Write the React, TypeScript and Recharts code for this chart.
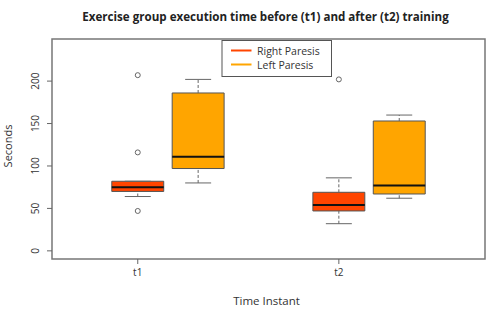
import {
  ComposedChart, Scatter, XAxis, YAxis, ReferenceArea, ReferenceLine, Customized,
} from 'recharts';

const TIMES = ['t1', 't2'];
const SERIES = ['Right Paresis', 'Left Paresis'];

// five-number summaries, one entry per time instant
const RIGHT_MIN = [64, 32];
const RIGHT_Q1 = [70, 47];
const RIGHT_MED = [75, 54];
const RIGHT_Q3 = [82, 69];
const RIGHT_MAX = [82, 86];
const RIGHT_OUT = [[207, 116, 47], [202]];

const LEFT_MIN = [80, 62];
const LEFT_Q1 = [97, 67];
const LEFT_MED = [111, 77];
const LEFT_Q3 = [186, 153];
const LEFT_MAX = [202, 160];
const LEFT_OUT: number[][] = [[], []];

const Y_TICKS = [0, 50, 100, 150, 200];

const RED = '#ff4500';
const ORANGE = '#ffa500';
const FRAME = '#777';
const TEXT = '#333';
const FONT = '"Open Sans", "Liberation Sans", sans-serif';

// layout (axis units)
const GROUP_AT = [1, 4.33];
const SERIES_OFFSET = [0, 1];
const HALF = 0.43;
const X_DOMAIN = [-0.42, 6.75];
const Y_DOMAIN = [-9.6, 249.6];

const STATS = [
  { min: RIGHT_MIN, q1: RIGHT_Q1, med: RIGHT_MED, q3: RIGHT_Q3, max: RIGHT_MAX, out: RIGHT_OUT, color: RED },
  { min: LEFT_MIN, q1: LEFT_Q1, med: LEFT_MED, q3: LEFT_Q3, max: LEFT_MAX, out: LEFT_OUT, color: ORANGE },
];

const outliers = STATS.flatMap((s, si) =>
  s.out.flatMap((vals, gi) => vals.map(v => ({ x: GROUP_AT[gi] + SERIES_OFFSET[si], y: v }))),
);

function seg(x1: number, y1: number, x2: number, y2: number) {
  return [{ x: x1, y: y1 }, { x: x2, y: y2 }] as any;
}

function boxMarks() {
  const out: any[] = [];
  STATS.forEach((s, si) => {
    TIMES.forEach((_, gi) => {
      const c = GROUP_AT[gi] + SERIES_OFFSET[si];
      const k = `${si}-${gi}`;
      out.push(
        <ReferenceArea key={`box${k}`} x1={c - HALF} x2={c + HALF} y1={s.q1[gi]} y2={s.q3[gi]}
          fill={s.color} fillOpacity={1} stroke="#555" strokeWidth={1} />,
      );
      if (s.max[gi] > s.q3[gi]) {
        out.push(<ReferenceLine key={`wu${k}`} segment={seg(c, s.q3[gi], c, s.max[gi])}
          stroke="#666" strokeDasharray="3 2" />);
      }
      if (s.min[gi] < s.q1[gi]) {
        out.push(<ReferenceLine key={`wl${k}`} segment={seg(c, s.min[gi], c, s.q1[gi])}
          stroke="#666" strokeDasharray="3 2" />);
      }
      out.push(
        <ReferenceLine key={`cu${k}`} segment={seg(c - HALF / 2, s.max[gi], c + HALF / 2, s.max[gi])} stroke="#666" />,
        <ReferenceLine key={`cl${k}`} segment={seg(c - HALF / 2, s.min[gi], c + HALF / 2, s.min[gi])} stroke="#666" />,
        <ReferenceLine key={`md${k}`} segment={seg(c - HALF, s.med[gi], c + HALF, s.med[gi])} stroke="#111" strokeWidth={2} />,
      );
    });
  });
  return out;
}

function YTick({ x, y, payload }: any) {
  const tx = x - 6;
  return (
    <text x={tx} y={y} transform={`rotate(-90, ${tx}, ${y})`} textAnchor="middle"
      fontSize={10} fill={TEXT} fontFamily={FONT}>{payload.value}</text>
  );
}

function XTick({ x, y, payload }: any) {
  const i = GROUP_AT.indexOf(payload.value);
  return (
    <text x={x} y={y + 10} textAnchor="middle" fontSize={10} fill={TEXT} fontFamily={FONT}>
      {TIMES[i]}
    </text>
  );
}

// legend box drawn in the svg so it takes no room from the plot
function LegendBox() {
  return (
    <g fontFamily={FONT} fontSize={10.5} fill={TEXT}>
      <rect x={222} y={40.5} width={109.5} height={36} fill="#fff" stroke="#555" />
      {SERIES.map((name, i) => (
        <g key={name}>
          <line x1={231} x2={251.5} y1={50.5 + i * 14} y2={50.5 + i * 14} stroke={STATS[i].color} strokeWidth={2} />
          <text x={257} y={54.5 + i * 14}>{name}</text>
        </g>
      ))}
    </g>
  );
}

export default function App() {
  return (
    <div style={{ position: 'absolute', left: 0, top: 0, background: '#fff' }}>
      <ComposedChart width={500} height={317} margin={{ top: 39, right: 15, bottom: 0, left: 0 }}>
        <XAxis dataKey="x" type="number" domain={X_DOMAIN} ticks={GROUP_AT} allowDataOverflow
          axisLine={false} tickSize={5} tickLine={{ stroke: '#666' }} height={58} tick={<XTick />}
          interval={0}
          label={{
            content: ({ viewBox }: any) => (
              <text x={viewBox.x + viewBox.width / 2 - 2} y={viewBox.y + 46} textAnchor="middle"
                fontSize={11.5} fill={TEXT} fontFamily={FONT}>Time Instant</text>
            ),
          }} />
        <YAxis type="number" domain={Y_DOMAIN} ticks={Y_TICKS} allowDataOverflow
          axisLine={false} tickSize={5} tickLine={{ stroke: '#666' }} width={52} tick={<YTick />}
          interval={0}
          label={{
            content: ({ viewBox }: any) => {
              const cx = 12;
              const cy = viewBox.y + viewBox.height / 2 - 3;
              return (
                <text x={cx} y={cy} transform={`rotate(-90, ${cx}, ${cy})`} textAnchor="middle"
                  fontSize={11} fill={TEXT} fontFamily={FONT}>Seconds</text>
              );
            },
          }} />
        <ReferenceArea x1={X_DOMAIN[0]} x2={X_DOMAIN[1]} y1={Y_DOMAIN[0]} y2={Y_DOMAIN[1]}
          fill="none" stroke={FRAME} strokeWidth={1.5} />
        {boxMarks()}
        <Scatter data={outliers} dataKey="y" isAnimationActive={false}
          shape={(p: any) => <circle cx={p.cx} cy={p.cy} r={2.5} fill="none" stroke="#666" strokeWidth={1} />} />
        <Customized component={() => <LegendBox />} />
        <Customized component={() => (
          <text x={265.5} y={21} textAnchor="middle" fontSize={11.6} fontWeight="bold" fill="#222"
            fontFamily={FONT}>
            Exercise group execution time before (t1) and after (t2) training
          </text>
        )} />
      </ComposedChart>
    </div>
  );
}
